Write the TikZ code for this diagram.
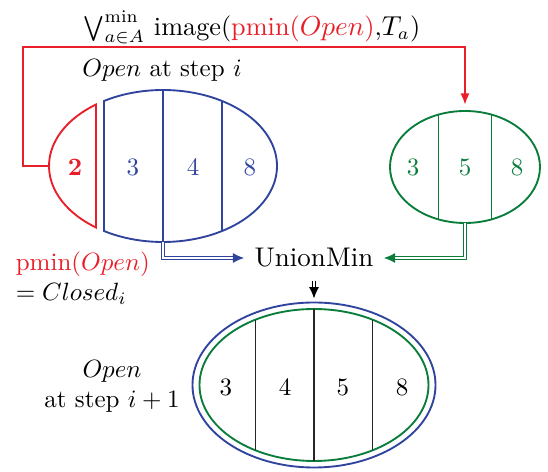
\documentclass[tikz,border=0pt]{standalone}
\usetikzlibrary{positioning,shapes.geometric,arrows.meta}
\definecolor{setred}{RGB}{232,30,40}
\definecolor{setblue}{RGB}{48,68,158}
\definecolor{setgreen}{RGB}{10,125,60}
\tikzset{
  >={Latex[length=4.5pt,width=3.6pt]},
  setframe/.style={
    ellipse,
    inner sep=0pt,
    outer sep=0pt},
  setline/.style={line width=0.75pt},
  cellnum/.style={inner sep=1pt},
  merge/.style={
    double, double distance=0.9pt, line width=0.5pt,
    -{Latex[length=4.5pt,width=4pt]}},
  redline/.style={draw=setred, line width=0.75pt, ->},
}

\begin{document}
\begin{tikzpicture}[x=0.4pt,y=-0.4pt]
\useasboundingbox (0,0) rectangle (548,472);

    % Open set at step i, with its extracted minimum
    \node [setframe, minimum width=91.2pt, minimum height=60.8pt](open) at (163,166){};
    \draw[setline, setred] (open.center) ++(126:114 and 76)
        arc[start angle=126, end angle=234, x radius=114, y radius=76] -- cycle;
    \draw[setline, setblue] (open.center) ++(121.2:114 and 76)
        arc[start angle=121.2, end angle=-121.2, x radius=114, y radius=76] -- cycle;
    \draw[setline, setblue] (open.north) -- (open.south);
    \draw[setline, setblue] (open.center) ++(58.8:114 and 76) -- ++(0,-130);
    \node [cellnum, text=setred, font=\bfseries] (min) at (75,167){2};
    \node [cellnum, text=setblue] (o3) at (133,167){3};
    \node [cellnum, text=setblue] (o4) at (193,167){4};
    \node [cellnum, text=setblue] (o8) at (250,167){8};
    \node (openlbl) at (162,70){$Open$ at step $i$};

    % successors of the minimum
    \node [setframe, minimum width=60pt, minimum height=44.8pt](succ) at (465,167){};
    \draw[setline, setgreen] (succ.center) ellipse [x radius=75, y radius=56];
    \draw[setline, setgreen] (succ.center) ++(110.7:75 and 56) -- ++(0,-105);
    \draw[setline, setgreen] (succ.center) ++(69.3:75 and 56) -- ++(0,-105);
    \node [cellnum, text=setgreen] (s3) at (413,167){3};
    \node [cellnum, text=setgreen] (s5) at (465,167){5};
    \node [cellnum, text=setgreen] (s8) at (517,167){8};

    \node [inner sep=0.5pt, font=\fontsize{10.5}{12}\selectfont] (imglbl) at (252,27){$\bigvee^{\min}_{a\in A}$ image(\textcolor{setred}{pmin($Open$)},$T_a$)};
    \coordinate (loop) at (23,47);
    \draw[redline, shorten >=2.5pt] (open.west) -| (loop) -| (succ.north);

    \node [align=left, anchor=west] (closed) at (7,278){\textcolor{setred}{pmin($Open$)}\\$=Closed_i$};

    % merging step
    \node [inner xsep=4pt, inner ysep=5pt, font=\fontsize{10.8}{12}\selectfont] (union) at (314,258){UnionMin};
    \draw[merge, setblue] (open.south) |- (union.west);
    \draw[merge, setgreen] (succ.south) |- (union.east);

    % Open set at step i+1
    \node [setframe, minimum width=97.2pt, minimum height=66pt](next) at (314,385){};
    \draw[setline, setblue] (next.center) ellipse [x radius=121.5, y radius=82.5];
    \draw[setline, setgreen] (next.center) ellipse [x radius=114.5, y radius=76];
    \draw[setline, black!85] (next.center) ++(0,-76) -- ++(0,152);
    \draw[setline, black!85] (next.center) ++(120.7:114.5 and 76) -- ++(0,-130.6);
    \draw[setline, black!85] (next.center) ++(59.3:114.5 and 76) -- ++(0,-130.6);
    \node [cellnum] (n3) at (226,387){3};
    \node [cellnum] (n4) at (285,387){4};
    \node [cellnum] (n5) at (343,387){5};
    \node [cellnum] (n8) at (402,387){8};
    \draw[merge, black, shorten >=1.6pt] (union.south) -- (next.north);
    \node [align=center] (nextlbl) at (112,386){$Open$\\at step $i+1$};

\end{tikzpicture}
\end{document}
